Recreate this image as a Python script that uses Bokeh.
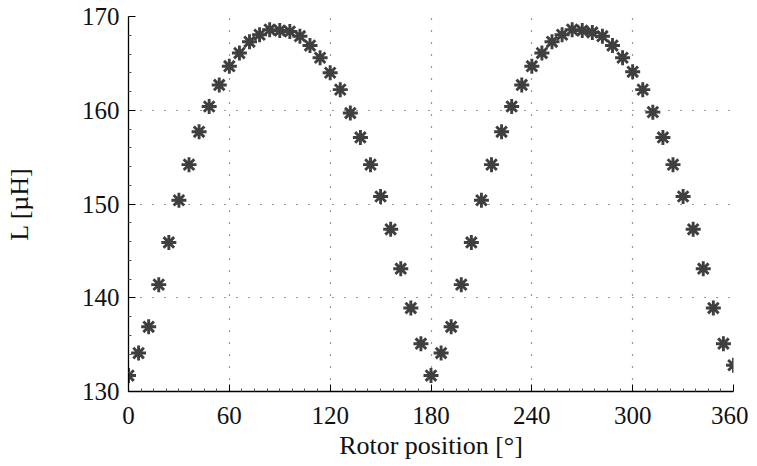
from bokeh.plotting import figure
from bokeh.models import Range1d, FixedTicker
from bokeh.embed import file_html
from bokeh.resources import INLINE

angle_deg = [0, 6, 12, 18, 24, 30, 36, 42, 48, 54, 60, 66, 72, 78, 84, 90,
             96, 102, 108, 114, 120, 126, 132, 138, 144, 150, 156, 162, 168, 174, 180,
             186, 192, 198, 204, 210, 216, 222, 228, 234, 240, 246, 252, 258, 264, 270,
             276, 282, 288, 294, 300, 306, 312, 318, 324, 330, 336, 342, 348, 354, 360]
inductance_uH = [131.7, 134.1, 136.9, 141.4, 145.9, 150.4, 154.2, 157.7, 160.4, 162.7,
                 164.7, 166.1, 167.3, 168.05, 168.6, 168.5, 168.4, 167.9, 166.9, 165.6,
                 164.0, 162.2, 159.7, 157.1, 154.2, 150.8, 147.3, 143.1, 138.9, 135.1, 131.7,
                 134.1, 136.9, 141.4, 145.9, 150.4, 154.2, 157.7, 160.4, 162.7,
                 164.7, 166.1, 167.3, 168.05, 168.6, 168.5, 168.3, 167.9, 166.9, 165.6,
                 164.1, 162.2, 159.8, 157.1, 154.2, 150.8, 147.3, 143.1, 138.9, 135.1, 132.8]
x_ticks = [0, 60, 120, 180, 240, 300, 360]
y_ticks = [130, 140, 150, 160, 170]

FONT = "Liberation Serif"

p = figure(width=748, height=466, output_backend="svg", toolbar_location=None,
           x_range=Range1d(0, 360), y_range=Range1d(130, 170),
           min_border_left=128, min_border_right=15, min_border_top=16, min_border_bottom=75)
p.outline_line_color = None
p.background_fill_color = "white"
p.border_fill_color = "white"

p.scatter(angle_deg, inductance_uH, marker="asterisk", size=15, line_width=2.9,
          line_color="#3f3f3f")

for ax, ticks, nminor in ((p.xaxis[0], x_ticks, 8), (p.yaxis[0], y_ticks, 5)):
    ax.ticker = FixedTicker(ticks=ticks,
                            minor_ticks=[t0 + (t1 - t0) * k / nminor
                                         for t0, t1 in zip(ticks[:-1], ticks[1:])
                                         for k in range(1, nminor)])
    ax.major_tick_in = 7
    ax.major_tick_out = 0
    ax.minor_tick_in = 3
    ax.minor_tick_out = 0
    ax.axis_line_color = "black"
    ax.axis_line_width = 1.3
    ax.major_tick_line_color = "black"
    ax.minor_tick_line_color = "#555555"
    ax.major_label_text_font = FONT
    ax.major_label_text_font_size = "25px"
    ax.major_label_text_color = "#111111"
    ax.axis_label_text_font = FONT
    ax.axis_label_text_font_size = "26px"
    ax.axis_label_text_font_style = "normal"
    ax.axis_label_text_color = "#111111"

p.xaxis.axis_label = "Rotor position [°]"
p.yaxis.axis_label = "L [µH]"
p.xaxis.major_label_standoff = 15
p.yaxis.major_label_standoff = 9
p.xaxis.axis_label_standoff = 4
p.yaxis.axis_label_standoff = 45

for g in (p.xgrid[0], p.ygrid[0]):
    g.grid_line_color = "#333333"
    g.grid_line_dash = "1 11"
    g.grid_line_width = 1.2

open("out.html", "w").write(file_html(p, INLINE))
